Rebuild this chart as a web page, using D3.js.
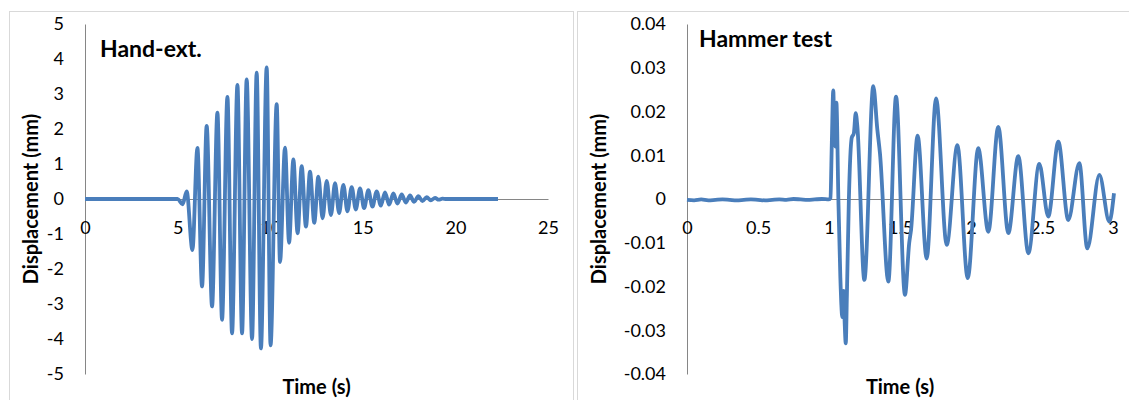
<!DOCTYPE html>
<html lang="en">
<head>
    <meta charset="UTF-8">
    <title>Displacement - hand excitation vs hammer test</title>
    <script src="https://d3js.org/d3.v7.min.js"></script>
    <style>
        html, body {
            margin: 0;
            background: #fff;
        }
        svg text {
            font-family: Lato, "Open Sans", sans-serif;
            fill: #000;
        }
        .axis text {
            font-size: 18px;
        }
        .axis-title {
            font-size: 20px;
            font-weight: bold;
        }
        .panel-title {
            font-size: 23px;
            font-weight: bold;
        }
    </style>
</head>
<body>
<div id="vis"></div>
<script>

    // hand excitation: peaks / troughs (s, mm)
    var handTime = [0, 5.0, 5.27, 5.49, 5.8, 6.07, 6.32, 6.57, 6.86, 7.15, 7.4, 7.69, 7.94, 8.23, 8.48, 8.73,
        9.02, 9.27, 9.5, 9.81, 10.02, 10.35, 10.53, 10.8, 11.02, 11.25, 11.48, 11.7, 11.93, 12.15, 12.38,
        12.6, 12.83, 13.05, 13.28, 13.5, 13.72, 13.95, 14.17, 14.4, 14.62, 14.85, 15.07, 15.3, 15.52, 15.75,
        15.97, 16.2, 16.42, 16.65, 16.87, 17.1, 17.32, 17.55, 17.77, 18.0, 18.22, 18.45, 18.67, 18.9, 19.1,
        19.3, 19.5, 22.3];
    var handDisp = [0, 0, -0.15, 0.22, -1.46, 1.46, -2.5, 2.09, -3.07, 2.47, -3.45, 2.92, -3.84, 3.26, -3.84, 3.42,
        -4.0, 3.61, -4.27, 3.76, -4.18, 2.71, -1.8, 1.47, -1.25, 1.13, -0.98, 0.94, -0.79, 0.78, -0.68,
        0.64, -0.55, 0.52, -0.46, 0.45, -0.4, 0.4, -0.35, 0.34, -0.3, 0.3, -0.26, 0.25, -0.22, 0.22,
        -0.19, 0.19, -0.16, 0.16, -0.13, 0.13, -0.1, 0.1, -0.08, 0.08, -0.06, 0.05, -0.04, 0.03, -0.02,
        0.01, 0, 0];

    // hammer test trace (s, mm)
    var hammerTime = [0, 0.05, 0.1, 0.15, 0.2, 0.25, 0.3, 0.35, 0.4, 0.45, 0.5, 0.55, 0.6, 0.65, 0.7, 0.75,
        0.8, 0.85, 0.9, 0.95, 1.0, 1.01, 1.02, 1.03, 1.038, 1.044, 1.052, 1.066, 1.08, 1.094, 1.103, 1.11,
        1.118, 1.126, 1.14, 1.16, 1.175, 1.188, 1.2, 1.249, 1.312, 1.34, 1.359, 1.418, 1.472, 1.535, 1.565,
        1.578, 1.624, 1.688, 1.754, 1.829, 1.904, 1.977, 2.051, 2.122, 2.192, 2.263, 2.333, 2.404, 2.481,
        2.544, 2.615, 2.685, 2.763, 2.819, 2.904, 2.974, 3.007];
    var hammerDisp = [-0.0002, -0.0003, -0.0001, -0.0003, -0.0002, -0.0001, -0.0002, -0.0003, -0.0002, -0.0001,
        -0.0002, -0.0003, -0.0002, -0.0001, -0.0002, 0, -0.0001, -0.0002, -0.0001, 0, -0.0001, 0.0002,
        0.013, 0.0248, 0.015, 0.012, 0.022, 0, -0.018, -0.027, -0.021, -0.028,
        -0.033, -0.022, 0, 0.014, 0.015, 0.0196, 0.0165, -0.0185, 0.0258, 0.016, 0.0104, -0.0189, 0.0234,
        -0.0219, -0.010, -0.007, 0.0145, -0.0136, 0.023, -0.0105, 0.0123, -0.0181, 0.0116, -0.0075, 0.0165,
        -0.0078, 0.0098, -0.0124, 0.008, -0.004, 0.0131, -0.0048, 0.0082, -0.0113, 0.0055, -0.0052, 0.0013];

    var handXTicks = [0, 5, 10, 15, 20, 25];
    var handYTicks = [-5, -4, -3, -2, -1, 0, 1, 2, 3, 4, 5];
    var hammerXTicks = [0, 0.5, 1, 1.5, 2, 2.5, 3];
    var hammerYTicks = [-0.04, -0.03, -0.02, -0.01, 0, 0.01, 0.02, 0.03, 0.04];

    var panels = [
        {title: "Hand-ext.", time: handTime, disp: handDisp, xDomain: [0, 25], yDomain: [-5, 5],
            xTicks: handXTicks, yTicks: handYTicks,
            box: [9.5, 11.5, 564], plot: {left: 85, right: 548, top: 24, bottom: 374},
            titlePos: [100, 57], yTitleX: 38},
        {title: "Hammer test", time: hammerTime, disp: hammerDisp, xDomain: [0, 3], yDomain: [-0.04, 0.04],
            xTicks: hammerXTicks, yTicks: hammerYTicks,
            box: [577.5, 11.5, 600], plot: {left: 687, right: 1113, top: 24, bottom: 374},
            titlePos: [699, 47], yTitleX: 606}
    ];

    var fmt = d3.formatLocale({decimal: ".", thousands: ",", grouping: [3], currency: ["", ""], minus: "-"})
        .format("~g");

    var svg = d3.select("#vis")
        .append("svg")
            .attr("width", 1129)
            .attr("height", 400);

    panels.forEach(function(p) {
        var g = svg.append("g");

        // chart border
        g.append("rect")
            .attr("x", p.box[0])
            .attr("y", p.box[1])
            .attr("width", p.box[2])
            .attr("height", 420)
            .attr("fill", "none")
            .attr("stroke", "#d9d9d9")
            .attr("stroke-width", 1);

        var x = d3.scaleLinear().domain(p.xDomain).range([p.plot.left, p.plot.right]);
        var y = d3.scaleLinear().domain(p.yDomain).range([p.plot.bottom, p.plot.top]);

        var yAxis = d3.axisLeft(y)
            .tickValues(p.yTicks)
            .tickFormat(fmt)
            .tickSize(0)
            .tickPadding(21);

        var xAxis = d3.axisBottom(x)
            .tickValues(p.xTicks)
            .tickFormat(fmt)
            .tickSize(0)
            .tickPadding(22);

        var ya = g.append("g")
            .attr("class", "axis")
            .attr("transform", "translate(" + x(0) + ",0)")
            .call(yAxis);

        var xa = g.append("g")
            .attr("class", "axis")
            .attr("transform", "translate(0," + y(0) + ")")
            .call(xAxis);

        [ya, xa].forEach(function(a) {
            a.select(".domain").attr("stroke", "#868686").attr("stroke-width", 1);
            a.selectAll("text").attr("fill", "#000").attr("font-family", null).attr("font-size", null);
        });

        // the trace
        var line = d3.line()
            .x(function(d, i) { return x(p.time[i]); })
            .y(function(d) { return y(d); })
            .curve(d3.curveMonotoneX);

        g.append("path")
            .datum(p.disp)
            .attr("fill", "none")
            .attr("stroke", "#4a7ebb")
            .attr("stroke-width", 3.8)
            .attr("stroke-linejoin", "round")
            .attr("d", line);

        g.append("text")
            .attr("class", "panel-title")
            .attr("x", p.titlePos[0])
            .attr("y", p.titlePos[1])
            .text(p.title);

        g.append("text")
            .attr("class", "axis-title")
            .attr("text-anchor", "middle")
            .attr("transform", "translate(" + p.yTitleX + "," + ((p.plot.top + p.plot.bottom) / 2) + ") rotate(-90)")
            .text("Displacement (mm)");

        g.append("text")
            .attr("class", "axis-title")
            .attr("text-anchor", "middle")
            .attr("x", (p.plot.left + p.plot.right) / 2)
            .attr("y", 394)
            .text("Time (s)");
    });

</script>
</body>
</html>
